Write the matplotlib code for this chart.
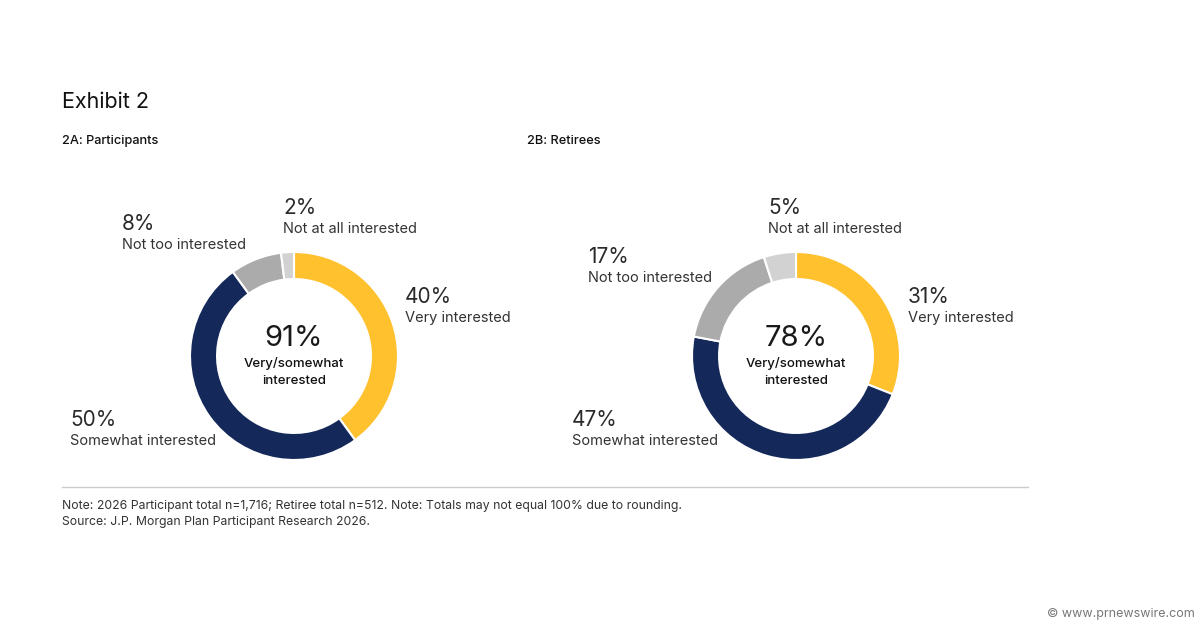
import matplotlib.pyplot as plt

plt.rcParams['font.family'] = ['Inter', 'DejaVu Sans']

categories = ['Very interested', 'Somewhat interested', 'Not too interested', 'Not at all interested']
participants = [40, 50, 8, 2]
retirees = [31, 47, 17, 5]
colors = ['#FFC12E', '#14285A', '#ABABAB', '#D2D2D2']

W, H = 1200, 628
fig = plt.figure(figsize=(12, 6.28), dpi=100)


def fx(x):
    return x / W


def fy(y):
    return 1 - y / H


def donut(cx, cy, vals, total_label):
    r = 104
    ax = fig.add_axes([fx(cx - r), fy(cy + r), 2 * r / W, 2 * r / H])
    ax.pie(vals, colors=colors, startangle=90, counterclock=False, radius=1,
           wedgeprops=dict(width=0.26, edgecolor='white', linewidth=1.5))
    ax.set_xlim(-1, 1)
    ax.set_ylim(-1, 1)
    ax.set_aspect('equal')
    ax.axis('off')
    fig.text(fx(cx), fy(338), total_label, ha='center', va='center', fontsize=21,
             color='#1a1a1a')
    fig.text(fx(cx), fy(363), 'Very/somewhat', ha='center', va='center', fontsize=9.5,
             fontweight='medium', color='#111111')
    fig.text(fx(cx), fy(381), 'interested', ha='center', va='center', fontsize=9.5,
             fontweight='medium', color='#111111')


def label(x, y, pct, name):
    fig.text(fx(x), fy(y), f'{pct}%', ha='left', va='center', fontsize=15,
             color='#2a2a2a')
    fig.text(fx(x), fy(y + 21), name, ha='left', va='center', fontsize=10.5, color='#333333')


fig.text(fx(62), fy(102), 'Exhibit 2', ha='left', va='center', fontsize=15.5, color='#111111')
fig.text(fx(62), fy(141), '2A: Participants', ha='left', va='center', fontsize=9.2,
         fontweight='medium', color='#111111')
fig.text(fx(527), fy(141), '2B: Retirees', ha='left', va='center', fontsize=9.2,
         fontweight='medium', color='#111111')

donut(294, 356, participants, '91%')
donut(796, 356, retirees, '78%')

# participants labels
label(405, 297, participants[0], categories[0])
label(70, 420, participants[1], categories[1])
label(122, 224, participants[2], categories[2])
label(283, 208, participants[3], categories[3])

# retirees labels
label(908, 297, retirees[0], categories[0])
label(572, 420, retirees[1], categories[1])
label(588, 257, retirees[2], categories[2])
label(768, 208, retirees[3], categories[3])

fig.add_artist(plt.Line2D([fx(62), fx(1028)], [fy(487), fy(487)], color='#CCCCCC', linewidth=1))
fig.text(fx(62), fy(506), 'Note: 2026 Participant total n=1,716; Retiree total n=512. Note: Totals may not equal 100% due to rounding.',
         ha='left', va='center', fontsize=8.8, color='#333333')
fig.text(fx(62), fy(522), 'Source: J.P. Morgan Plan Participant Research 2026.',
         ha='left', va='center', fontsize=8.8, color='#333333')

fig.text(fx(1195), fy(614), '\u00a9 www.prnewswire.com', ha='right', va='center', fontsize=9, color='#777777')

fig.savefig('out.png', dpi=100, facecolor='white')
